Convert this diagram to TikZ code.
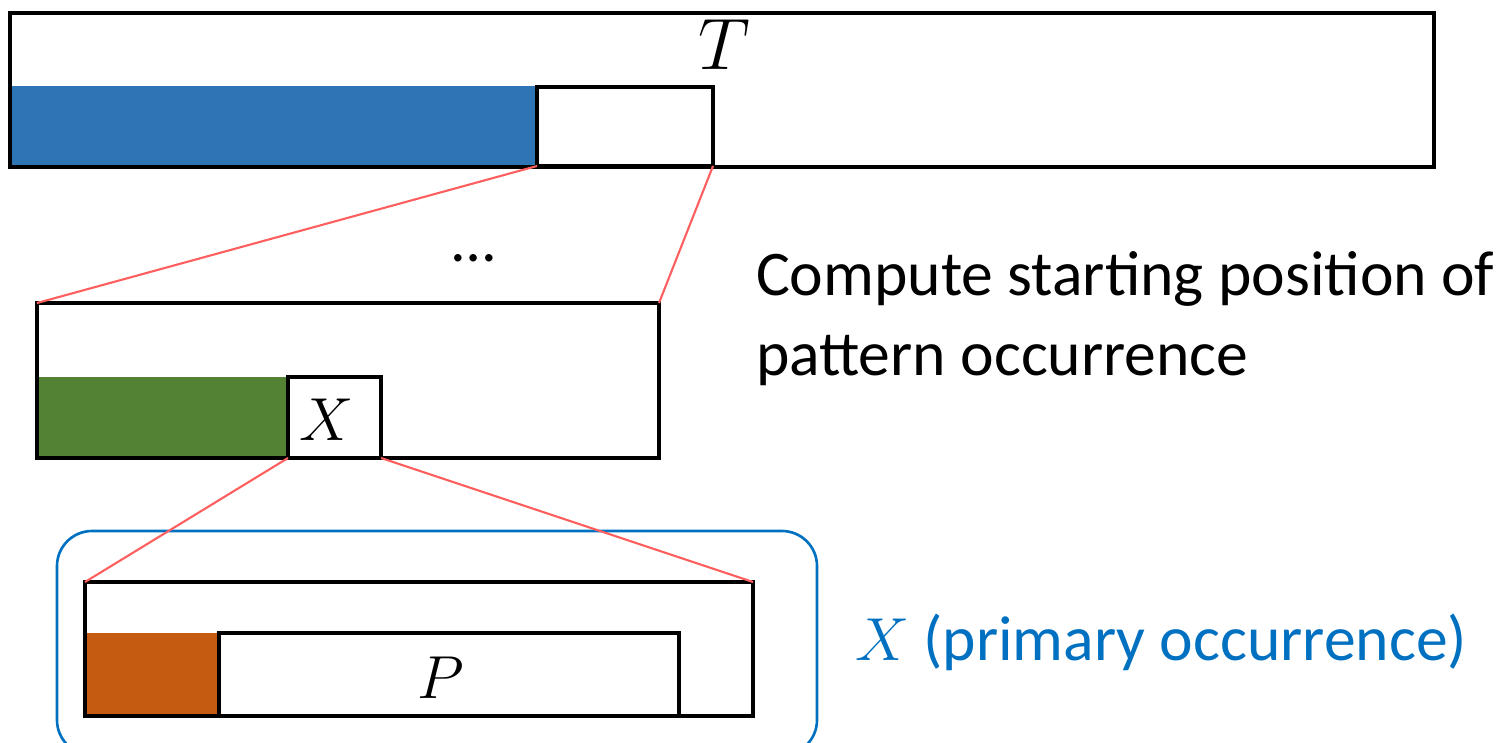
\documentclass[tikz,border=0pt]{standalone}
\usepackage{fontspec}
\setmainfont{Carlito}
\definecolor{tblue}{RGB}{46,117,182}
\definecolor{tgreen}{RGB}{84,130,53}
\definecolor{torange}{RGB}{197,90,17}
\definecolor{tred}{RGB}{255,95,95}
\definecolor{tframe}{RGB}{0,112,192}
\tikzset{
  box/.style={draw=black, line width=1.3pt, inner sep=0pt, outer sep=0pt, anchor=north west},
  fillbox/.style={inner sep=0pt, outer sep=0pt, anchor=north west},
  zoomline/.style={draw=tred, line width=0.6pt},
  lbl/.style={inner sep=0pt, outer sep=0pt},
  txt/.style={inner sep=0pt, outer sep=0pt, font=\fontsize{18.1}{22.8}\selectfont}
}
\begin{document}
\begin{tikzpicture}
\useasboundingbox (0,0) rectangle (14.99,-7.42);
% top text T
\node[fillbox, fill=tblue, minimum width=5.27cm, minimum height=0.81cm] (tfill) at (0.10,-0.86) {};
\node[box, minimum width=14.24cm, minimum height=1.54cm] (T) at (0.10,-0.13) {};
\node[box, minimum width=1.76cm, minimum height=0.79cm] (S) at (5.37,-0.87) {};
\node[lbl, font=\fontsize{20.8}{24}\selectfont] (tlab) at (7.24,-0.45) {$T$};
% middle
\node[fillbox, fill=tgreen, minimum width=2.51cm, minimum height=0.81cm] (mfill) at (0.37,-3.77) {};
\node[box, minimum width=6.22cm, minimum height=1.55cm] (M) at (0.37,-3.03) {};
\node[box, minimum width=0.93cm, minimum height=0.81cm] (Xb) at (2.88,-3.77) {};
\node[lbl, font=\fontsize{18.3}{22}\selectfont] (xlab) at (3.27,-4.20) {$X$};
\node[lbl, font=\fontsize{17.6}{22}\selectfont] (dots) at (4.74,-2.58) {\dots};
% frame
\draw[tframe, line width=0.75pt, rounded corners=0.35cm] (0.57,-5.31) rectangle (8.17,-7.55);
\node[lbl, inner sep=0pt] (frame) at (4.37,-6.43) {};
% bottom
\node[fillbox, fill=torange, minimum width=1.34cm, minimum height=0.83cm] (bfill) at (0.85,-6.33) {};
\node[box, minimum width=6.68cm, minimum height=1.34cm] (B) at (0.85,-5.82) {};
\node[box, minimum width=4.60cm, minimum height=0.83cm] (Pb) at (2.19,-6.33) {};
\node[lbl, font=\fontsize{17.2}{22}\selectfont] (plab) at (4.41,-6.78) {$P$};
% zoom lines
\draw[zoomline] (S.south west) -- (M.north west);
\draw[zoomline] (S.south east) -- (M.north east);
\draw[zoomline] (Xb.south west) -- (B.north west);
\draw[zoomline] (Xb.south east) -- (B.north east);
% texts
\node[txt, anchor=west, align=left] (desc) at (7.56,-3.19) {Compute starting position of\\pattern occurrence};
\node[txt, anchor=base west, text=tframe] (prim) at (8.55,-6.60) {$X$ (primary occurrence)};
\end{tikzpicture}
\end{document}
